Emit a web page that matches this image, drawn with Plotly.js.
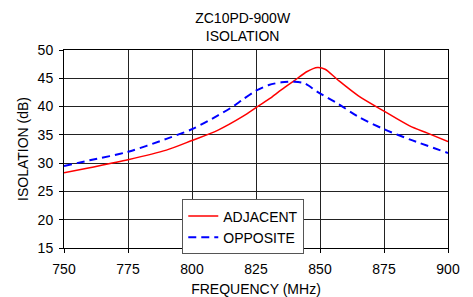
<!DOCTYPE html>
<html>
<head>
<meta charset="utf-8">
<script src="https://cdn.plot.ly/plotly-3.0.1.min.js"></script>
<style>html,body{margin:0;padding:0;background:#fff;}#chart{width:473px;height:297px;}</style>
</head>
<body>
<div id="chart"></div>
<script>
var adjFreq = [750, 760, 775, 790, 800, 810, 820, 825, 830, 835, 840, 845, 849, 852, 857, 865, 875, 885, 892, 900];
var adjIso  = [28.3, 29.2, 30.6, 32.3, 34.0, 35.8, 38.3, 39.8, 41.3, 43.0, 44.6, 46.2, 46.9, 46.6, 44.7, 41.9, 39.2, 36.6, 35.3, 33.8];
var oppFreq = [750, 760, 775, 790, 800, 810, 816, 820, 825, 830, 835, 840, 844, 849, 857, 865, 875, 885, 900];
var oppIso  = [29.5, 30.5, 32.0, 34.3, 36.0, 38.4, 40.0, 41.3, 42.8, 43.8, 44.3, 44.4, 44.1, 42.6, 40.5, 38.2, 36.0, 34.2, 31.8];
var xTicks = [750, 775, 800, 825, 850, 875, 900];
var yTicks = [15, 20, 25, 30, 35, 40, 45, 50];

var font = 'Liberation Sans, Arial, sans-serif';
var traces = [
  {x: adjFreq, y: adjIso, name: 'ADJACENT', mode: 'lines',
   line: {color: '#ff0000', width: 1.5, shape: 'spline', smoothing: 0.8}},
  {x: oppFreq, y: oppIso, name: 'OPPOSITE', mode: 'lines',
   line: {color: '#0000ff', width: 2, dash: '8px,5px', shape: 'spline', smoothing: 0.8}}
];
var layout = {
  width: 473, height: 297,
  margin: {l: 64, r: 25, t: 50, b: 49},
  paper_bgcolor: '#fff', plot_bgcolor: '#fff',
  font: {family: font, size: 14, color: '#000'},
  title: {text: 'ZC10PD-900W<br>ISOLATION', font: {family: font, size: 14, color: '#000'},
          x: 0.513, xref: 'container', xanchor: 'center', y: 0.924, yref: 'container', yanchor: 'middle'},
  xaxis: {range: [750, 900], tickvals: xTicks, ticktext: xTicks.map(String),
          showgrid: true, gridcolor: '#222', gridwidth: 1,
          showline: true, linecolor: '#000', linewidth: 1, mirror: true,
          ticks: 'outside', ticklen: 4, tickcolor: '#000', zeroline: false,
          ticklabelstandoff: 4,
          tickfont: {family: font, size: 14, color: '#000'},
          title: {text: 'FREQUENCY (MHz)', font: {family: font, size: 14, color: '#000'}, standoff: 10}},
  yaxis: {range: [15, 50], tickvals: yTicks, ticktext: yTicks.map(String),
          showgrid: true, gridcolor: '#222', gridwidth: 1,
          showline: true, linecolor: '#000', linewidth: 1, mirror: true,
          ticks: 'outside', ticklen: 4, tickcolor: '#000', zeroline: false,
          ticklabelstandoff: 3,
          tickfont: {family: font, size: 14, color: '#000'},
          title: {text: 'ISOLATION (dB)', font: {family: font, size: 14, color: '#000'}, standoff: 5}},
  showlegend: true,
  legend: {x: 0.308, y: 0.245, xanchor: 'left', yanchor: 'top', bgcolor: '#fff',
           bordercolor: '#555', borderwidth: 1, font: {family: font, size: 14, color: '#000'},
           itemwidth: 30, tracegroupgap: 0}
};
Plotly.newPlot('chart', traces, layout, {staticPlot: true, displayModeBar: false});
</script>
</body>
</html>
